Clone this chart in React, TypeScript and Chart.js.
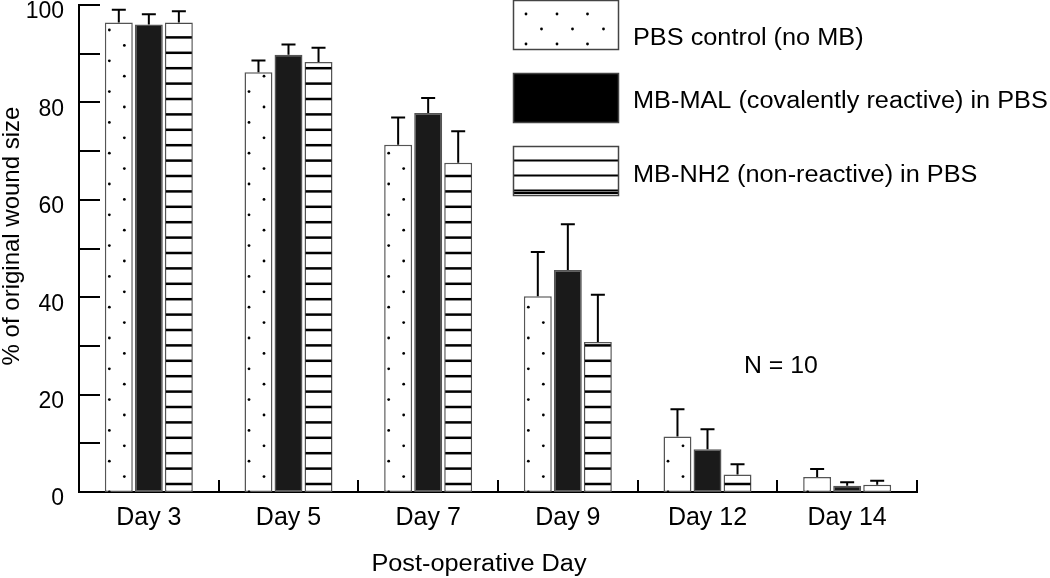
import React, { useEffect, useRef } from 'react';
import { Chart, registerables } from 'chart.js';

Chart.register(...registerables);

const categories = ['Day 3', 'Day 5', 'Day 7', 'Day 9', 'Day 12', 'Day 14'];
const seriesNames = [
  'PBS control (no MB)',
  'MB-MAL (covalently reactive) in PBS',
  'MB-NH2 (non-reactive) in PBS',
];
const pbsValues = [96.4, 86.2, 71.3, 40.2, 11.4, 3.1];
const pbsErrors = [2.6, 2.4, 5.6, 9.1, 5.6, 1.6];
const malValues = [96.0, 89.8, 77.8, 45.6, 8.8, 1.3];
const malErrors = [2.1, 2.1, 3.1, 9.4, 4.1, 0.7];
const nh2Values = [96.4, 88.3, 67.6, 30.8, 3.6, 1.5];
const nh2Errors = [2.3, 2.9, 6.5, 9.7, 2.1, 0.8];
const yMin = 0;
const yMax = 100;
const yStep = 10;
const yLabelEvery = 20;
const xTitle = 'Post-operative Day';
const yTitle = '% of original wound size';
const noteText = 'N = 10';

const FONT = '"Liberation Sans", Arial, Helvetica, sans-serif';
const errorsByDataset = [pbsErrors, malErrors, nh2Errors];
const patternsByDataset = ['dots', 'solid', 'stripes'];

function drawDots(ctx: CanvasRenderingContext2D, left: number, top: number, base: number) {
  ctx.fillStyle = '#000';
  for (let k = 0; ; k++) {
    const yy = base - 15.4 * k;
    if (yy < top - 2) break;
    const xx = k % 2 === 0 ? left + 4.5 : left + 19.5;
    ctx.beginPath();
    ctx.arc(xx, yy, 1.4, 0, Math.PI * 2);
    ctx.fill();
  }
}

function drawStripes(ctx: CanvasRenderingContext2D, left: number, width: number, top: number, base: number) {
  ctx.fillStyle = '#000';
  for (let k = 0; ; k++) {
    const yy = base - 8 - 15.4 * k;
    if (yy < top - 2) break;
    ctx.fillRect(left, yy - 1.25, width, 2.5);
  }
}

function stretchedText(
  ctx: CanvasRenderingContext2D,
  text: string,
  x: number,
  y: number,
  align: CanvasTextAlign,
  baseline: CanvasTextBaseline,
  sx: number
) {
  ctx.save();
  ctx.translate(x, y);
  ctx.scale(sx, 1);
  ctx.textAlign = align;
  ctx.textBaseline = baseline;
  ctx.fillText(text, 0, 0);
  ctx.restore();
}

const decorPlugin = {
  id: 'decor',
  afterDatasetsDraw(chart: any) {
    const ctx: CanvasRenderingContext2D = chart.ctx;
    const yScale = chart.scales.y;
    chart.data.datasets.forEach((_ds: any, di: number) => {
      const meta = chart.getDatasetMeta(di);
      const kind = patternsByDataset[di];
      meta.data.forEach((bar: any) => {
        const { x, y, base, width } = bar.getProps(['x', 'y', 'base', 'width'], true);
        const left = x - width / 2;
        if (kind !== 'solid') {
          ctx.save();
          ctx.beginPath();
          ctx.rect(left + 1, y + 1, width - 2, base - y - 1);
          ctx.clip();
          if (kind === 'dots') drawDots(ctx, left, y, base);
          else drawStripes(ctx, left, width, y, base);
          ctx.restore();
        }
      });
    });
    // error bars
    chart.data.datasets.forEach((ds: any, di: number) => {
      const meta = chart.getDatasetMeta(di);
      const errs = errorsByDataset[di];
      meta.data.forEach((bar: any, i: number) => {
        const { x, y } = bar.getProps(['x', 'y'], true);
        const yTop = yScale.getPixelForValue(ds.data[i] + errs[i]);
        ctx.save();
        ctx.strokeStyle = '#000';
        ctx.lineWidth = 2;
        ctx.beginPath();
        ctx.moveTo(x, y);
        ctx.lineTo(x, yTop);
        ctx.moveTo(x - 7, yTop);
        ctx.lineTo(x + 7, yTop);
        ctx.stroke();
        ctx.restore();
      });
    });
  },
  afterDraw(chart: any) {
    const ctx: CanvasRenderingContext2D = chart.ctx;
    const area = chart.chartArea;
    const yScale = chart.scales.y;
    const xScale = chart.scales.x;
    ctx.save();
    ctx.strokeStyle = '#000';
    ctx.lineWidth = 2;
    // inward y ticks
    yScale.ticks.forEach((t: any) => {
      const py = Math.round(yScale.getPixelForValue(t.value));
      ctx.beginPath();
      ctx.moveTo(area.left, py);
      ctx.lineTo(area.left + 21, py);
      ctx.stroke();
    });
    // category separators
    const n = categories.length;
    for (let i = 1; i <= n; i++) {
      const px = Math.round(xScale.left + (i * xScale.width) / n);
      ctx.beginPath();
      ctx.moveTo(px, area.bottom);
      ctx.lineTo(px, area.bottom - 12);
      ctx.stroke();
    }
    ctx.restore();

    // legend
    ctx.save();
    const bx = 513.5;
    const bw = 105;
    const bh = 49;
    const boxTops = [0.5, 73.5, 146.5];
    const textYs = [39, 102, 176];
    boxTops.forEach((bt, i) => {
      ctx.fillStyle = i === 1 ? '#000' : '#fff';
      ctx.fillRect(bx, bt, bw, bh);
      if (i === 0) {
        ctx.fillStyle = '#000';
        const rows = [bt + 13.5, bt + 28.5, bt + 43.5];
        rows.forEach((ry, r) => {
          const xs = r === 1 ? [bx + 28, bx + 59, bx + 90] : [bx + 12.5, bx + 43.5, bx + 74];
          xs.forEach((rx) => {
            ctx.beginPath();
            ctx.arc(rx, ry, 1.4, 0, Math.PI * 2);
            ctx.fill();
          });
        });
      } else if (i === 2) {
        ctx.fillStyle = '#000';
        [bt + 14, bt + 29, bt + 44, bt + 46.5].forEach((sy) => {
          ctx.fillRect(bx, sy - 1, bw, 2);
        });
      }
      ctx.strokeStyle = '#444';
      ctx.lineWidth = 1.5;
      ctx.strokeRect(bx, bt, bw, bh);
      ctx.fillStyle = '#000';
      ctx.font = `23px ${FONT}`;
      stretchedText(ctx, seriesNames[i], 633, textYs[i], 'left', 'middle', 1.1);
    });

    // note
    ctx.fillStyle = '#000';
    ctx.font = `23px ${FONT}`;
    stretchedText(ctx, noteText, 744, 373, 'left', 'alphabetic', 1.08);

    // x title
    stretchedText(ctx, xTitle, 479, 571, 'center', 'alphabetic', 1.1);

    // y title
    ctx.font = `24px ${FONT}`;
    ctx.translate(12, 236);
    ctx.rotate(-Math.PI / 2);
    ctx.textAlign = 'center';
    ctx.textBaseline = 'middle';
    ctx.fillText(yTitle, 0, 0);
    ctx.restore();
  },
};

export default function App() {
  const canvasRef = useRef<HTMLCanvasElement | null>(null);

  useEffect(() => {
    if (!canvasRef.current) return;
    const common = {
      borderColor: '#555',
      borderWidth: 1.5,
      borderSkipped: false,
      categoryPercentage: 0.645,
      barPercentage: 0.93,
    };
    const chart = new Chart(canvasRef.current, {
      type: 'bar',
      data: {
        labels: categories,
        datasets: [
          { label: seriesNames[0], data: pbsValues, backgroundColor: '#fff', ...common },
          { label: seriesNames[1], data: malValues, backgroundColor: '#1a1a1a', ...common },
          { label: seriesNames[2], data: nh2Values, backgroundColor: '#fff', ...common },
        ],
      },
      options: {
        responsive: false,
        animation: false,
        devicePixelRatio: 1,
        layout: { padding: { top: 5, right: 133, left: 0, bottom: 0 } },
        plugins: {
          legend: { display: false },
          tooltip: { enabled: false },
          title: { display: false },
        },
        scales: {
          x: {
            grid: { display: false, drawTicks: false },
            border: { display: true, color: '#000', width: 2 },
            ticks: {
              color: '#000',
              font: { family: FONT, size: 25 },
              padding: 11,
              maxRotation: 0,
              autoSkip: false,
            },
            afterFit: (s: any) => {
              s.height = 86;
              s.paddingLeft = 0;
              s.paddingRight = 0;
            },
          },
          y: {
            min: yMin,
            max: yMax,
            grid: { display: false, drawTicks: false },
            border: { display: true, color: '#000', width: 2 },
            ticks: {
              stepSize: yStep,
              color: '#000',
              font: { family: FONT, size: 23 },
              padding: 15,
              labelOffset: 7,
              autoSkip: false,
              callback: (v: any) => (Number(v) % yLabelEvery === 0 ? String(v) : ''),
            },
            afterFit: (s: any) => {
              s.width = 79;
              s.paddingTop = 0;
              s.paddingBottom = 0;
            },
          },
        },
      },
      plugins: [decorPlugin],
    } as any);
    return () => chart.destroy();
  }, []);

  return (
    <div style={{ position: 'absolute', left: 0, top: 0, width: 1050, height: 578, background: '#fff' }}>
      <canvas ref={canvasRef} width={1050} height={578} style={{ display: 'block' }} />
    </div>
  );
}
